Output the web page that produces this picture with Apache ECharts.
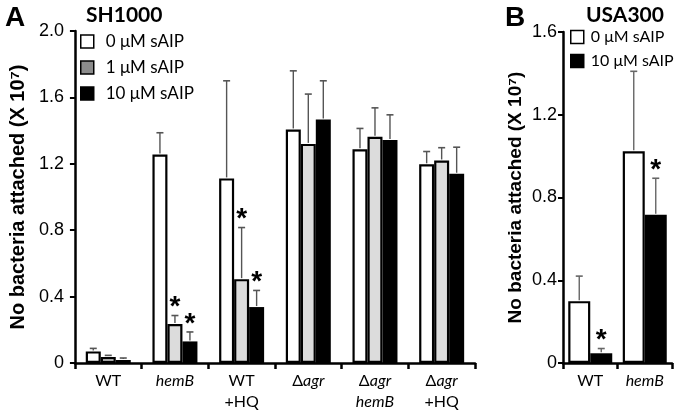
<!DOCTYPE html>
<html>
<head>
<meta charset="utf-8">
<script src="https://cdn.jsdelivr.net/npm/echarts@6/dist/echarts.min.js"></script>
<style>html,body{margin:0;padding:0;background:#fff}#c{width:680px;height:412px}</style>
</head>
<body>
<div id="c"></div>
<script>
// ---- Data: panel A (SH1000) ----
const categoriesA = ['WT', 'hemB', 'WT\n+HQ', 'Δagr', 'Δagr\nhemB', 'Δagr\n+HQ'];
const seriesNamesA = ['0 μM sAIP', '1 μM sAIP', '10 μM sAIP'];
const sAIP0_A  = [0.070, 1.256, 1.112, 1.407, 1.287, 1.197];
const sAIP1_A  = [0.036, 0.235, 0.505, 1.320, 1.363, 1.220];
const sAIP10_A = [0.018, 0.130, 0.337, 1.467, 1.343, 1.140];
const err0_A   = [0.018, 0.131, 0.588, 0.353, 0.126, 0.077];
const err1_A   = [0.010, 0.051, 0.311, 0.300, 0.174, 0.077];
const err10_A  = [0.012, 0.057, 0.100, 0.233, 0.152, 0.160];
const stars0_A  = [0, 0, 0, 0, 0, 0];
const stars1_A  = [0, 1, 1, 0, 0, 0];
const stars10_A = [0, 1, 1, 0, 0, 0];
const yTicksA = [0, 0.4, 0.8, 1.2, 1.6, 2.0];

// ---- Data: panel B (USA300) ----
const categoriesB = ['WT', 'hemB'];
const seriesNamesB = ['0 μM sAIP', '10 μM sAIP'];
const sAIP0_B  = [0.299, 1.023];
const sAIP10_B = [0.047, 0.717];
const err0_B   = [0.121, 0.387];
const err10_B  = [0.023, 0.176];
const stars0_B  = [0, 0];
const stars10_B = [1, 1];
const yTicksB = [0, 0.4, 0.8, 1.2, 1.6];

const TICK_FONT = 'Liberation Sans';
const LABEL_FONT = 'Lato';
const fills = ['#ffffff', '#dcdcdc', '#000000'];
const legendFills = {'0 μM sAIP': '#ffffff', '1 μM sAIP': '#8c8c8c', '10 μM sAIP': '#000000'};

function catLabel(v) {
  return v.split('\n').map(line => {
    if (line.startsWith('Δ')) return 'Δ{i|' + line.slice(1) + '}';
    if (line === 'hemB') return '{i|hemB}';
    return '{n|' + line + '}';
  }).join('\n');
}

function makeErrData(means, errs, stars) {
  const out = [];
  means.forEach((arr, s) => arr.forEach((m, i) => out.push([i, m, errs[s][i], s, stars[s][i]])));
  return out;
}

function errRenderer(nSeries, barW, cap, color) {
  return function (params, api) {
    const i = api.value(0), m = api.value(1), e = api.value(2), s = api.value(3), st = api.value(4);
    const base = api.coord([i, m]);
    const top = api.coord([i, m + e]);
    const x = base[0] + (s - (nSeries - 1) / 2) * barW;
    const children = [
      {type: 'line', shape: {x1: x, y1: base[1] - 1, x2: x, y2: top[1]}, style: {stroke: color, lineWidth: 1.4}},
      {type: 'line', shape: {x1: x - cap, y1: top[1], x2: x + cap, y2: top[1]}, style: {stroke: color, lineWidth: 1.6}}
    ];
    if (st) {
      children.push({type: 'text', style: {text: '*', x: x, y: top[1] - 8, textAlign: 'center', textVerticalAlign: 'middle',
        font: 'bold 28px "Liberation Sans"', fill: '#000'}});
    }
    return {type: 'group', children: children};
  };
}

function yAxisCfg(gridIdx, max, nameGap, nameSize, margin) {
  return {
    type: 'value', gridIndex: gridIdx, min: 0, max: max, interval: 0.4,
    name: 'No bacteria attached (X 10⁷)', nameLocation: 'middle', nameGap: nameGap,
    nameTextStyle: {fontFamily: TICK_FONT, fontWeight: 'bold', fontSize: nameSize, color: '#000'},
    axisLine: {show: true, lineStyle: {color: '#000', width: 2.5}},
    axisTick: {show: true, length: 5, lineStyle: {color: '#000', width: 2}},
    splitLine: {show: false},
    axisLabel: {margin: margin, fontFamily: TICK_FONT, fontSize: 18, color: '#000',
      formatter: v => (v === 0 ? '0' : v.toFixed(1))}
  };
}

function xAxisCfg(gridIdx, cats) {
  return {
    type: 'category', gridIndex: gridIdx, data: cats,
    axisLine: {lineStyle: {color: '#000', width: 2.5}},
    axisTick: {show: true, interval: 0, alignWithLabel: false, length: 6, lineStyle: {color: '#000', width: 2.5}},
    axisLabel: {interval: 0, margin: 7, color: '#000', fontFamily: LABEL_FONT, fontSize: 16, lineHeight: 21,
      formatter: catLabel,
      rich: {i: {fontStyle: 'italic', fontFamily: LABEL_FONT, fontSize: 16, lineHeight: 21, color: '#000'},
             n: {fontFamily: LABEL_FONT, fontSize: 16, lineHeight: 21, color: '#000'}}}
  };
}

function barSeries(name, data, xi, fill, barW) {
  return {
    type: 'bar', name: name, xAxisIndex: xi, yAxisIndex: xi, data: data, barWidth: barW, barGap: '0%',
    itemStyle: {color: fill, borderColor: '#000', borderWidth: fill === '#000000' ? 0 : 2.2},
    emphasis: {disabled: true}, animation: false, z: 2
  };
}

const option = {
  animation: false,
  title: [
    {text: 'A', left: 0, top: -1, textStyle: {fontFamily: TICK_FONT, fontWeight: 'bold', fontSize: 28, color: '#000'}},
    {text: 'SH1000', left: 81, top: 0, textStyle: {fontFamily: LABEL_FONT, fontWeight: 'bold', fontSize: 21, color: '#000'}},
    {text: 'B', left: 500, top: -1, textStyle: {fontFamily: TICK_FONT, fontWeight: 'bold', fontSize: 28, color: '#000'}},
    {text: 'USA300', left: 581, top: 0, textStyle: {fontFamily: LABEL_FONT, fontWeight: 'bold', fontSize: 21, color: '#000'}}
  ],
  legend: [
    {orient: 'vertical', left: 77, top: 30, itemWidth: 13, itemHeight: 13, itemGap: 9, icon: 'rect', padding: 3,
     textStyle: {fontFamily: LABEL_FONT, fontSize: 17, lineHeight: 13, color: '#000', padding: [0, 0, 0, 7]},
     data: seriesNamesA.map(n => ({name: n, itemStyle: {color: legendFills[n], borderColor: '#000', borderWidth: 1.5}}))},
    {orient: 'vertical', left: 567, top: 26, itemWidth: 13, itemHeight: 13, itemGap: 8, icon: 'rect', padding: 3,
     textStyle: {fontFamily: LABEL_FONT, fontSize: 16, lineHeight: 13, color: '#000', padding: [0, 0, 0, 2]},
     data: seriesNamesB.map(n => ({name: n, itemStyle: {color: legendFills[n], borderColor: '#000', borderWidth: 1.5}}))}
  ],
  grid: [
    {left: 70, top: 31, width: 405, height: 334},
    {left: 563, top: 32, width: 109, height: 331}
  ],
  xAxis: [xAxisCfg(0, categoriesA), xAxisCfg(1, categoriesB)],
  yAxis: [yAxisCfg(0, 2.0, 42, 20, 11), yAxisCfg(1, 1.6, 38, 19, 6)],
  series: [
    barSeries(seriesNamesA[0], sAIP0_A, 0, fills[0], 15),
    barSeries(seriesNamesA[1], sAIP1_A, 0, fills[1], 15),
    barSeries(seriesNamesA[2], sAIP10_A, 0, fills[2], 15),
    barSeries(seriesNamesB[0], sAIP0_B, 1, fills[0], 22),
    barSeries(seriesNamesB[1], sAIP10_B, 1, fills[2], 22),
    {type: 'custom', xAxisIndex: 0, yAxisIndex: 0, z: 5, silent: true,
     renderItem: errRenderer(3, 15, 3.5, '#555'),
     data: makeErrData([sAIP0_A, sAIP1_A, sAIP10_A], [err0_A, err1_A, err10_A], [stars0_A, stars1_A, stars10_A])},
    {type: 'custom', xAxisIndex: 1, yAxisIndex: 1, z: 5, silent: true,
     renderItem: errRenderer(2, 22, 3.5, '#666'),
     data: makeErrData([sAIP0_B, sAIP10_B], [err0_B, err10_B], [stars0_B, stars10_B])}
  ]
};

const chart = echarts.init(document.getElementById('c'), null, {renderer: 'canvas'});
chart.setOption(option);
</script>
</body>
</html>
